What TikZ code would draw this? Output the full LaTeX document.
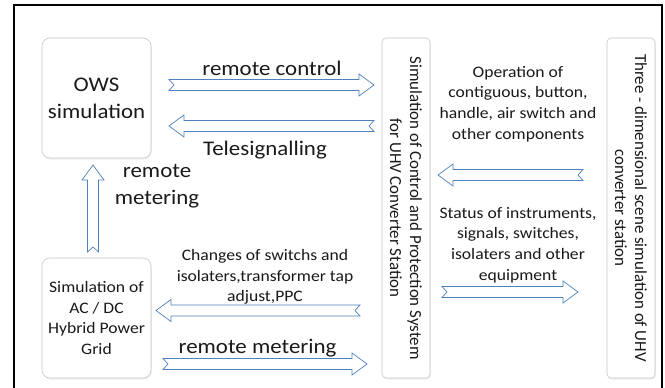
\documentclass[tikz,border=0pt]{standalone}
\usepackage{fontspec}
\setmainfont{Carlito}[FakeStretch=1.1]
\newfontfamily\uprightfont{Carlito}
\usetikzlibrary{calc,shadows}

\definecolor{arrowblue}{HTML}{4F81BD}
\definecolor{boxgray}{HTML}{C8C8C8}
\definecolor{ink}{HTML}{1A1A1A}

\tikzset{
  box/.style={draw=boxgray, line width=0.6pt, fill=white, rounded corners=8pt,
    drop shadow={opacity=0.12, shadow xshift=0.8pt, shadow yshift=-1.6pt},
    inner sep=0pt, text=ink, align=center},
  tallbox/.style={box, rounded corners=4pt, minimum width=48pt, minimum height=340pt},
  bigtext/.style={font=\fontsize{20.8}{27}\selectfont, text=ink, inner sep=0pt},
  smalltext/.style={font=\fontsize{16}{20.8}\selectfont, text=ink, inner sep=0pt, align=center},
  sidetext/.style={rotate=-90, text=ink, align=center, inner sep=0pt,
    font=\uprightfont\fontsize{16.9}{20}\selectfont},
  % hollow block arrow with a notched tail, drawn from tail to tip
  blockarrow/.style={draw=arrowblue, fill=white, line width=0.7pt, line join=miter,
    to path={
      ($(\tikztostart)!5pt!(\tikztotarget)$)
      -- ($(\tikztostart)!5.5pt!90:(\tikztotarget)$)
      -- ($(\tikztotarget)!15pt!(\tikztostart) + (\tikztostart)!5.5pt!90:(\tikztotarget) - (\tikztostart)$)
      -- ($(\tikztotarget)!15pt!(\tikztostart) + (\tikztostart)!11pt!90:(\tikztotarget) - (\tikztostart)$)
      -- (\tikztotarget)
      -- ($(\tikztotarget)!15pt!(\tikztostart) + (\tikztostart)!11pt!-90:(\tikztotarget) - (\tikztostart)$)
      -- ($(\tikztotarget)!15pt!(\tikztostart) + (\tikztostart)!5.5pt!-90:(\tikztotarget) - (\tikztostart)$)
      -- ($(\tikztostart)!5.5pt!-90:(\tikztotarget)$)
      -- cycle
    }}
}

\begin{document}
\begin{tikzpicture}[x=1pt,y=-1pt]
\useasboundingbox (0,0) rectangle (665,388);
\fill[white] (0,0) rectangle (665,388);
\draw[line width=1.6pt] (14,5) rectangle (662,396);

% boxes
\node[box, minimum width=109pt, minimum height=120pt,
      font=\fontsize{20.8}{27}\selectfont] (ows) at (96.5,98) {OWS\\simulation};
\node[box, minimum width=109pt, minimum height=120pt,
      font=\fontsize{16}{20.5}\selectfont] (grid) at (96.5,318) {Simulation of\\AC / DC\\Hybrid Power\\Grid};
\node[tallbox] (ctrl) at (406,208) {};
\node[sidetext] (ctrltxt) at (ctrl.center)
      {Simulation of Control and Protection System\\for UHV Converter Station};
\node[tallbox] (scene) at (631,208) {};
\node[sidetext] (scenetxt) at (scene.center)
      {Three - dimensional scene simulation of UHV\\converter station};

% arrow end points
\coordinate (rcA) at (169,85);  \coordinate (rcB) at (374,85);
\coordinate (tsA) at (374,126); \coordinate (tsB) at (169,126);
\coordinate (opA) at (583,175); \coordinate (opB) at (438,175);
\coordinate (stA) at (442,292); \coordinate (stB) at (578,292);
\coordinate (umA) at (93,252);  \coordinate (umB) at (93,165);
\coordinate (chA) at (360,310.5); \coordinate (chB) at (156,310.5);
\coordinate (rmA) at (163,364); \coordinate (rmB) at (367,364);

\draw[blockarrow] (rcA) to (rcB);
\draw[blockarrow] (tsA) to (tsB);
\draw[blockarrow] (opA) to (opB);
\draw[blockarrow] (stA) to (stB);
\draw[blockarrow] (umA) to (umB);
\draw[blockarrow] (chA) to (chB);
\draw[blockarrow] (rmA) to (rmB);

% labels
\node[bigtext, anchor=base] (lrc) at (272,75) {remote control};
\node[bigtext, anchor=base] (lts) at (265,155.5) {Telesignalling};
\node[bigtext, anchor=base, align=center] (lum) at (157,204) {remote\\metering};
\node[bigtext, anchor=base] (lrm) at (257.5,353) {remote metering};
\node[smalltext] (lop) at (518,104) {Operation of\\contiguous, button,\\handle, air switch and\\other components};
\node[smalltext] (lst) at (518,245) {Status of instruments,\\signals, switches,\\isolaters and other\\equipment};
\node[smalltext] (lch) at (265,277) {Changes of switchs and\\isolaters,transformer tap\\adjust,PPC};
\end{tikzpicture}
\end{document}
